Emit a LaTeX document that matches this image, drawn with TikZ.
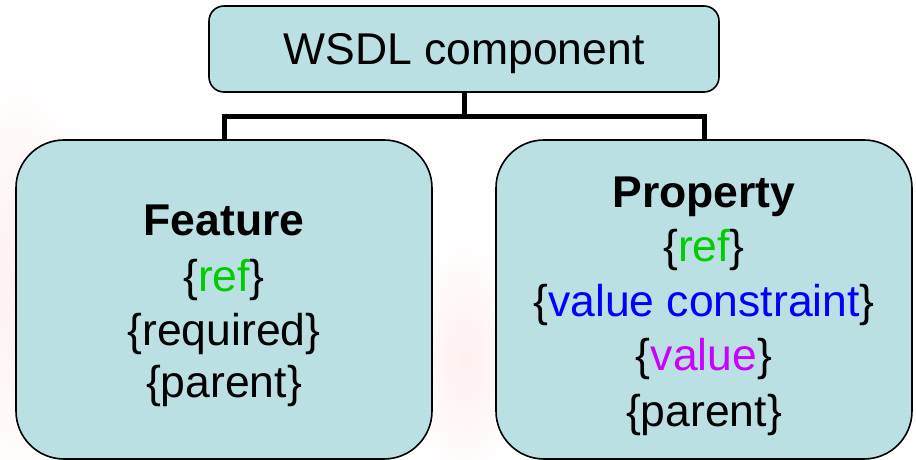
\documentclass[tikz,border=0pt]{standalone}
\usepackage{fontspec}
\setmainfont{Liberation Sans}
\definecolor{boxfill}{RGB}{187,224,227}
\definecolor{refgreen}{RGB}{0,204,0}
\definecolor{constraintblue}{RGB}{0,0,255}
\definecolor{valuemagenta}{RGB}{204,0,255}
\begin{document}
\begin{tikzpicture}[x=1pt,y=-1pt,
  panel/.style={draw=black, line width=1.6pt, fill=boxfill, inner sep=0pt},
  txt/.style={anchor=base, inner sep=0pt, font=\fontsize{44.5}{53}\selectfont},
  tree/.style={line width=5pt, line join=miter}]
\useasboundingbox (0,0) rectangle (916,460);
\fill[white] (0,0) rectangle (916,460);

% faint background haze
\shade[inner color=red!6, outer color=white] (20,280) ellipse [x radius=80, y radius=220];
\shade[inner color=red!6, outer color=white] (465,360) ellipse [x radius=60, y radius=130];

% boxes
\node[panel, rounded corners=15pt, minimum width=510pt, minimum height=86pt] (top) at (464,49) {};
\node[panel, rounded corners=48pt, minimum width=416pt, minimum height=319pt] (feat) at (224,299.5) {};
\node[panel, rounded corners=48pt, minimum width=416pt, minimum height=319pt] (prop) at (704,299.5) {};

% tree connectors
\coordinate (bus) at (464,116);
\draw[tree] (top.south) -- (bus);
\draw[tree] (feat.north) |- (bus) -| (prop.north);

% texts
\node[txt] (ttop) at (464,65) {WSDL component};

\node[txt] (f1) at (224,235.5) {\bfseries Feature};
\node[txt] (f2) at (224,291.5) {\{\textcolor{refgreen}{ref}\}};
\node[txt] (f3) at (224,345) {\{required\}};
\node[txt] (f4) at (224,397) {\{parent\}};

\node[txt] (p1) at (704,207.5) {\bfseries Property};
\node[txt] (p2) at (704,261.5) {\{\textcolor{refgreen}{ref}\}};
\node[txt] (p3) at (704,316) {\{\textcolor{constraintblue}{value constraint}\}};
\node[txt] (p4) at (704,370.5) {\{\textcolor{valuemagenta}{value}\}};
\node[txt] (p5) at (704,426) {\{parent\}};
\end{tikzpicture}
\end{document}
